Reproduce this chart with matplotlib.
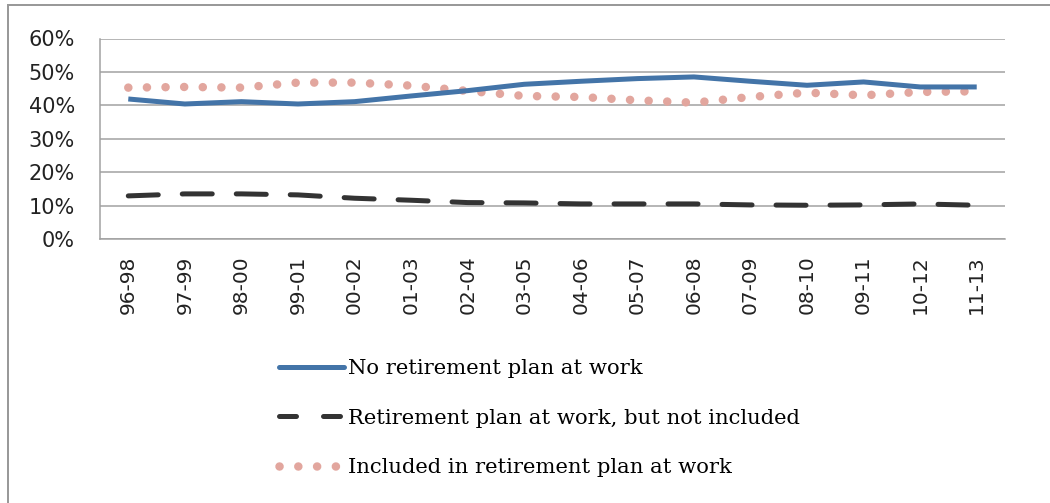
import numpy as np
import matplotlib
matplotlib.use("Agg")
import matplotlib.pyplot as plt
from matplotlib.lines import Line2D

categories = ["96-98", "97-99", "98-00", "99-01", "00-02", "01-03", "02-04", "03-05",
              "04-06", "05-07", "06-08", "07-09", "08-10", "09-11", "10-12", "11-13"]
no_plan = [41.9, 40.4, 41.1, 40.4, 41.1, 42.8, 44.4, 46.3, 47.2, 48.0, 48.5, 47.2, 46.0, 47.0, 45.5, 45.5]
plan_not_included = [12.9, 13.5, 13.5, 13.2, 12.2, 11.6, 10.9, 10.8, 10.5, 10.5, 10.5, 10.2, 10.1, 10.2, 10.5, 10.1]
included = [45.3, 45.5, 45.3, 46.8, 46.8, 45.9, 44.3, 42.8, 42.5, 41.5, 40.8, 42.5, 43.8, 43.0, 44.0, 44.2]
y_ticks = [0, 10, 20, 30, 40, 50, 60]
labels = ["No retirement plan at work", "Retirement plan at work, but not included",
          "Included in retirement plan at work"]

DPI = 100
fig = plt.figure(figsize=(10.5, 5.03), dpi=DPI)
W, H = 1050, 503
ax = fig.add_axes([100 / W, 1 - 239 / H, (1005 - 100) / W, (239 - 38.5) / H])

x = np.arange(len(categories))
px = 72 / DPI
grid_c = "#a0a0a0"
blue = "#4374a8"
black = "#333333"
pink = "#e2a69e"

l1, = ax.plot(x, no_plan, color=blue, lw=5 * px, solid_capstyle="butt", solid_joinstyle="round", zorder=3)
l2, = ax.plot(x, plan_not_included, color=black, lw=5 * px, dashes=(6.0, 4.8),
              dash_capstyle="round", zorder=3)
l3, = ax.plot(x, included, color=pink, lw=8.5 * px, dashes=(0.01, 2.18),
              dash_capstyle="round", zorder=2)

ax.set_xlim(-0.5, len(categories) - 0.5)
ax.set_ylim(0, 60)
ax.set_yticks(y_ticks)
ax.set_yticklabels([f"{v}%" for v in y_ticks], family="DejaVu Sans", fontsize=15, color="#222222")
ax.set_xticks(x)
ax.set_xticklabels(categories, rotation=90, family="DejaVu Sans", fontsize=14.5, color="#222222")
ax.tick_params(axis="y", length=0, pad=18)
ax.tick_params(axis="x", length=0, pad=12)
ax.grid(axis="y", color=grid_c, lw=1.5 * px)
ax.set_axisbelow(True)
for s in ["top", "right"]:
    ax.spines[s].set_visible(False)
for s in ["left", "bottom"]:
    ax.spines[s].set_color(grid_c)
    ax.spines[s].set_linewidth(1.5 * px)

h1 = Line2D([], [], color=blue, lw=5 * px, solid_capstyle="round")
h2 = Line2D([], [], color=black, lw=5 * px, dashes=(3.4, 5.4), dash_capstyle="round")
h3 = Line2D([], [], color=pink, lw=8.5 * px, dashes=(0.01, 2.2), dash_capstyle="round")
leg = fig.legend([h1, h2, h3], labels, loc="upper left", bbox_to_anchor=(279 / W, 1 - 359 / H),
                 frameon=False, prop={"family": "DejaVu Serif", "size": 15.2},
                 handlelength=3.1, handletextpad=0.15, labelspacing=1.45, borderpad=0,
                 borderaxespad=0)

# outer chart border (left and top only visible)
fig.add_artist(Line2D([8 / W, 8 / W], [0, 1 - 5 / H], transform=fig.transFigure, color="#999999", lw=2 * px))
fig.add_artist(Line2D([8 / W, 1], [1 - 5 / H, 1 - 5 / H], transform=fig.transFigure, color="#999999", lw=2 * px))

fig.savefig("out.png", dpi=DPI)
